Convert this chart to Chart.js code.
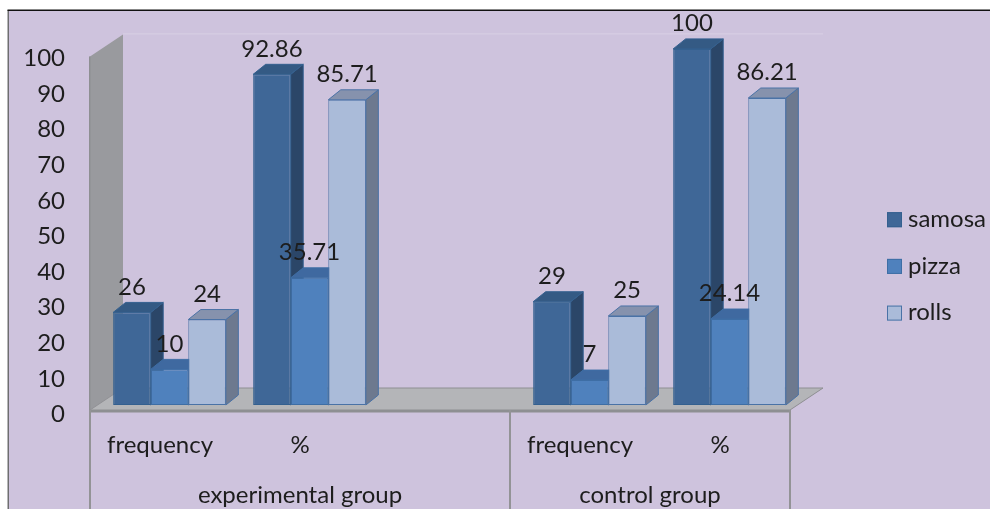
<!DOCTYPE html>
<html>
<head>
<meta charset="utf-8">
<title>samosa, pizza, rolls</title>
<script src="https://cdn.jsdelivr.net/npm/chart.js@4.4.1/dist/chart.umd.min.js"></script>
<style>
  html, body { margin: 0; padding: 0; background: #ffffff; }
  canvas { display: block; }
</style>
</head>
<body>
<canvas id="chart" width="990" height="509"></canvas>
<script>
// Category rows along the x axis (third slot is the empty spacer of the first group)
const categories = ['frequency', '%', '', 'frequency', '%'];
const groupLabels = ['experimental group', 'control group'];
const groupSpans = [3, 2];

// Series values
const seriesNames = ['samosa', 'pizza', 'rolls'];
const samosa = [26, 92.86, null, 29, 100];
const pizza  = [10, 35.71, null, 7, 24.14];
const rolls  = [24, 85.71, null, 25, 86.21];

// Value axis
const yMin = 0;
const yMax = 100;
const yStep = 10;

// ---- styling ----
const FONT = 'Lato, "DejaVu Sans", sans-serif';
const TEXT = '#1d1d1d';
const BG = '#cec3dd';
const WALL = '#999a9e';
const FLOOR = '#b4b5b8';
const EDGE = '#8e8f92';
const faces = [
  { front: '#3f6797', top: '#345a84', side: '#2b4668', border: '#34608f' },
  { front: '#4f81bd', top: '#3f69a0', side: '#395f90', border: '#3e6ea5' },
  { front: '#aabbd9', top: '#8692ad', side: '#6d798f', border: '#4a72a6' }
];
const BAR_DX = 12.5, BAR_DY = 10;       // bar depth in projection
const FRONT_DX = -9.5, FRONT_DY = 5;    // bars sit behind the front edge of the floor
const FLOOR_DX = 33, FLOOR_DY = 22;     // floor / side wall depth

function poly(ctx, pts, fill, stroke, lw) {
  ctx.beginPath();
  ctx.moveTo(pts[0][0], pts[0][1]);
  for (let i = 1; i < pts.length; i++) ctx.lineTo(pts[i][0], pts[i][1]);
  ctx.closePath();
  if (fill) { ctx.fillStyle = fill; ctx.fill(); }
  if (stroke) { ctx.strokeStyle = stroke; ctx.lineWidth = lw || 1; ctx.stroke(); }
}

const scenePlugin = {
  id: 'scene',
  beforeDraw(chart) {
    const ctx = chart.ctx;
    const { left, right } = chart.chartArea;
    const y = chart.scales.y;
    const W = chart.width, H = chart.height;
    ctx.save();
    ctx.fillStyle = '#ffffff';
    ctx.fillRect(0, 0, W, H);
    ctx.fillStyle = BG;
    ctx.fillRect(9, 11, W - 9, H - 11);
    // frame
    ctx.fillStyle = '#6e6e70';
    ctx.fillRect(7.5, 10, 1.5, H - 10);
    ctx.fillStyle = '#111111';
    ctx.fillRect(7.5, 9.5, W - 7.5, 1.5);

    const x0 = left + FRONT_DX;          // front-left corner
    const x1 = right + FRONT_DX;         // front-right corner
    const yTop = y.getPixelForValue(yMax) + 7.5;
    const yBot = y.getPixelForValue(yMin) + FRONT_DY;

    // back wall top edge
    ctx.strokeStyle = 'rgba(255,255,255,0.22)';
    ctx.lineWidth = 1;
    ctx.beginPath();
    ctx.moveTo(x0 + FLOOR_DX, yTop - FLOOR_DY - 0.5);
    ctx.lineTo(x1 + FLOOR_DX, yTop - FLOOR_DY - 0.5);
    ctx.stroke();

    // side wall
    poly(ctx, [[x0, yTop], [x0 + FLOOR_DX, yTop - FLOOR_DY],
               [x0 + FLOOR_DX, yBot - FLOOR_DY], [x0, yBot]], WALL);
    ctx.fillStyle = EDGE;
    ctx.fillRect(x0 - 1, yTop, 1.5, yBot - yTop);

    // floor
    poly(ctx, [[x0, yBot], [x0 + FLOOR_DX, yBot - FLOOR_DY],
               [x1 + FLOOR_DX, yBot - FLOOR_DY], [x1, yBot]], FLOOR, EDGE, 1);
    ctx.fillStyle = EDGE;
    ctx.fillRect(x0 - 1, yBot, x1 - x0 + 2, 2.5);

    // category table lines below the floor
    const xs = chart.scales.x;
    const half = (xs.getPixelForValue(1) - xs.getPixelForValue(0)) / 2;
    const cuts = [0];
    let acc = 0;
    groupSpans.forEach(n => { acc += n; cuts.push(acc); });
    ctx.fillStyle = '#939396';
    cuts.forEach(c => {
      const px = xs.getPixelForValue(0) - half + c * 2 * half + FRONT_DX;
      ctx.fillRect(px - 1, yBot, 2, H - yBot);
    });
    ctx.restore();
  },
  beforeDatasetsDraw(chart) {
    const ctx = chart.ctx;
    ctx.save();
    chart.data.datasets.forEach((ds, di) => {
      const meta = chart.getDatasetMeta(di);
      const f = faces[di];
      meta.data.forEach((el, i) => {
        if (ds.data[i] === null || ds.data[i] === undefined) return;
        const p = el.getProps(['x', 'y', 'base', 'width'], true);
        const xl = p.x - p.width / 2, xr = p.x + p.width / 2;
        const yt = p.y, yb = p.base;
        // side face
        poly(ctx, [[xr, yt], [xr + BAR_DX, yt - BAR_DY], [xr + BAR_DX, yb - BAR_DY], [xr, yb]],
             f.side, f.border, 1);
        // top face
        poly(ctx, [[xl, yt], [xl + BAR_DX, yt - BAR_DY], [xr + BAR_DX, yt - BAR_DY], [xr, yt]],
             f.top, f.border, 1);
        // front face, drawn by the bar element itself
        el.draw(ctx, chart.chartArea);
      });
    });
    ctx.restore();
    return false;
  },
  afterDraw(chart) {
    const ctx = chart.ctx;
    ctx.save();
    ctx.fillStyle = TEXT;
    ctx.font = '24px ' + FONT;
    ctx.textAlign = 'center';
    ctx.textBaseline = 'middle';
    // value labels
    chart.data.datasets.forEach((ds, di) => {
      const meta = chart.getDatasetMeta(di);
      meta.data.forEach((el, i) => {
        const v = ds.data[i];
        if (v === null || v === undefined) return;
        const p = el.getProps(['x', 'y'], true);
        ctx.fillText(String(v), p.x, p.y - 25.5);
      });
    });
    // group labels
    const xs = chart.scales.x;
    const half = (xs.getPixelForValue(1) - xs.getPixelForValue(0)) / 2;
    let start = 0;
    groupLabels.forEach((g, gi) => {
      const a = xs.getPixelForValue(start) - half;
      const b = xs.getPixelForValue(start + groupSpans[gi] - 1) + half;
      ctx.fillText(g, (a + b) / 2 + FRONT_DX, 495.5);
      start += groupSpans[gi];
    });
    // legend
    ctx.textAlign = 'left';
    seriesNames.forEach((name, di) => {
      const cy = 219.7 + di * 46.7;
      ctx.fillStyle = faces[di].front;
      ctx.fillRect(887, cy - 7.5, 15, 15);
      ctx.strokeStyle = faces[di].border;
      ctx.lineWidth = 1;
      ctx.strokeRect(887.5, cy - 7, 14, 14);
      ctx.fillStyle = TEXT;
      ctx.fillText(name, 908, cy - 0.5);
    });
    ctx.restore();
  }
};

const seriesValues = [samosa, pizza, rolls];

new Chart(document.getElementById('chart'), {
  type: 'bar',
  data: {
    labels: categories,
    datasets: seriesNames.map((name, i) => ({
      label: name,
      data: seriesValues[i],
      backgroundColor: faces[i].front,
      borderColor: faces[i].border,
      borderWidth: 1,
      borderSkipped: false,
      categoryPercentage: 0.805,
      barPercentage: 1.0
    }))
  },
  options: {
    responsive: false,
    animation: false,
    devicePixelRatio: 1,
    layout: { padding: { top: 45, right: 190.5, left: 0, bottom: 0 } },
    plugins: { legend: { display: false }, tooltip: { enabled: false } },
    scales: {
      x: {
        grid: { display: false, drawTicks: false },
        border: { display: false },
        ticks: {
          color: TEXT,
          font: { family: FONT, size: 24 },
          padding: 26,
          labelOffset: FRONT_DX,
          maxRotation: 0,
          autoSkip: false
        },
        afterFit(scale) { scale.height = 104; }
      },
      y: {
        min: yMin,
        max: yMax,
        grid: { display: false, drawTicks: false },
        border: { display: false },
        ticks: {
          stepSize: yStep,
          color: TEXT,
          font: { family: FONT, size: 24 },
          padding: 34.5,
          labelOffset: 9.5
        },
        afterFit(scale) { scale.width = 99.5; }
      }
    }
  },
  plugins: [scenePlugin]
});
</script>
</body>
</html>
